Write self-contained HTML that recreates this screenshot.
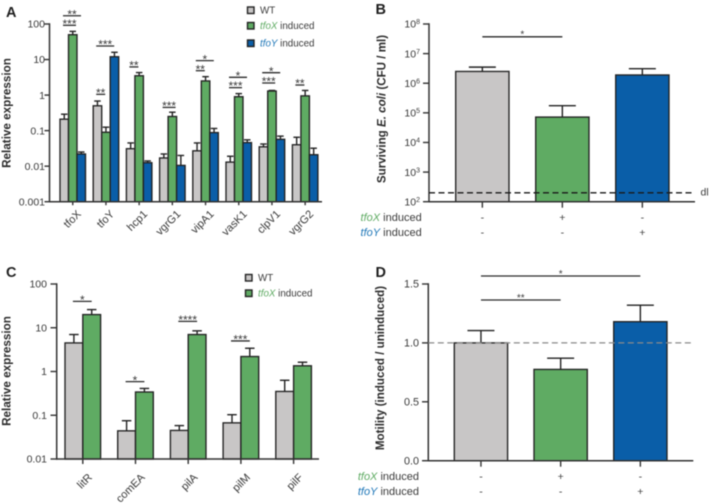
<!DOCTYPE html>
<html>
<head>
<meta charset="utf-8">
<style>
html,body{margin:0;padding:0;background:#fff;width:709px;height:503px;overflow:hidden}
svg{display:block;filter:blur(0.4px)}
text{font-family:"Liberation Sans",sans-serif;fill:#3a3a3a}
</style>
</head>
<body>
<svg id="fig" width="709" height="503" viewBox="0 0 709 503" xmlns="http://www.w3.org/2000/svg"></svg>
<script>
// Panel A
const aGenes = ['tfoX','tfoY','hcp1','vgrG1','vipA1','vasK1','clpV1','vgrG2'];
const aWT = [0.21,0.5,0.031,0.017,0.027,0.013,0.035,0.04];
const aWTErr = [0.29,0.68,0.045,0.022,0.045,0.019,0.042,0.065];
const aTfoX = [50,0.09,3.5,0.25,2.5,0.9,1.3,0.95];
const aTfoXErr = [62,0.125,4.3,0.33,3.3,1.1,1.35,1.35];
const aTfoY = [0.022,12,0.0125,0.0105,0.088,0.046,0.057,0.021];
const aTfoYErr = [0.025,16,0.014,0.02,0.115,0.055,0.07,0.032];
const aTicks = ['100','10','1','0.1','0.01','0.001'];
const aSig = [['**',0,171,1],['***',0,92,0],['***',1,24,1],['**',1,1.05,0],['**',2,6.2,0],['***',3,0.45,0],['*',4,9.3,1],['**',4,4.86,0],['*',5,3.16,1],['***',5,1.62,0],['*',6,4.27,1],['***',6,2.19,0],['**',7,1.92,0]];
// Panel B
const bValues = [2500000,72000,1900000];
const bErr = [3500000,175000,3100000];
const bExp = [8,7,6,5,4,3,2];
const bDetection = 200;
const bSigLevel = 37000000;
const bX = ['-','+','-'];
const bY = ['-','-','+'];
// Panel C
const cGenes = ['litR','comEA','pilA','pilM','pilF'];
const cWT = [4.5,0.044,0.045,0.067,0.35];
const cWTErr = [7,0.075,0.058,0.103,0.63];
const cTfoX = [20,0.34,7,2.2,1.35];
const cTfoXErr = [26,0.41,8.5,3.4,1.63];
const cTicks = ['100','10','1','0.1','0.01'];
const cSig = [['*',0,40],['*',1,0.586],['****',2,14],['***',3,5]];
// Panel D
const dValues = [1.0,0.775,1.18];
const dErr = [1.105,0.87,1.32];
const dTicks = ['1.5','1.0','0.5','0.0'];
const dRef = 1.0;
const dSigLevels = [1.568,1.364];
const dSigLabels = ['*','**'];
const dSigTargets = [2,1];

const GRAY='#c8c6c6', GREEN='#5fab63', BLUE='#0a5ea8', INK='#222222', AXIS='#333333';
const svg=document.getElementById('fig');
const NS='http://www.w3.org/2000/svg';

function mk(tag,attrs,name,parent){
  const el=document.createElementNS(NS,tag);
  for(const k in attrs){el.setAttribute(k,attrs[k]);}
  
  
  (parent||svg).appendChild(el);
  return el;
}
function line(x1,y1,x2,y2,name,w,c,dash){
  const a={x1,y1,x2,y2,stroke:c||AXIS,'stroke-width':w||1.4};
  if(dash){a['stroke-dasharray']=dash;}
  return mk('line',a,name);
}
function txt(x,y,s,name,size,anchor,extra){
  const a=Object.assign({x,y,'font-size':size||10.5,'text-anchor':anchor||'start'},extra||{});
  const t=mk('text',a,name);
  t.textContent=s;
  return t;
}
function logY(top,bottom,maxExp,minExp){
  return v=>top+(maxExp-Math.log10(v))/(maxExp-minExp)*(bottom-top);
}
function linY(top,bottom,max){
  return v=>bottom-(v/max)*(bottom-top);
}
function bar(x,w,v,err,y,base,fill,cap,name){
  line(x+w/2,y(v),x+w/2,y(err),name+'-error',1.4,INK);
  line(x+w/2-cap/2,y(err),x+w/2+cap/2,y(err),name+'-error-cap',1.4,INK);
  mk('rect',{x,y:y(v),width:w,height:base-y(v),fill,stroke:INK,'stroke-width':1.35},name);
}
function sig(x1,x2,yy,label,name,size){
  line(x1,yy,x2,yy,name+'-line',1.3,'#2a2a2a');
  const s=size||12;
  txt((x1+x2)/2,s===12?yy+2.6:yy+0.8,label,name+'-stars',s,'middle');
}
function axes(x,top,base,right,name){
  line(x,top-0.7,x,base+0.7,name+'-y-axis',1.5);
  line(x,base,right,base,name+'-x-axis',1.5);
}
function title(x,y,s,name,size){
  const t=mk('text',{x,y,'font-size':size||11.7,'font-weight':'bold','text-anchor':'middle',transform:`rotate(-90 ${x} ${y})`,style:'fill:#2b2b2b'},name);
  t.textContent=s;
  return t;
}
function italicLabel(x,y,gene,color,rest,anchor,name,size){
  const t=mk('text',{x,y,'font-size':size,'text-anchor':anchor},name);
  const s=mk('tspan',{'font-style':'italic',style:'fill:'+color},name+'-gene',t);
  s.textContent=gene;
  const r=mk('tspan',{},name+'-suffix',t);
  r.textContent=rest;
}
function legendSwatch(x,y,c,name){
  mk('rect',{x,y,width:6.5,height:6.5,fill:c,stroke:INK,'stroke-width':1.4},name);
}
function panelLetter(x,y,s,name){
  return txt(x,y,s,name,14.5,'start',{'font-weight':'bold',style:'fill:#1f1f1f'});
}

/* ---------- Panel A ---------- */
(function(){
  const x0=60, bw=8.5, step=33.2, top=24, base=201.7;
  const y=logY(top,base,2,-3);
  aGenes.forEach((g,i)=>{
    const gx=x0+i*step;
    bar(gx,bw,aWT[i],aWTErr[i],y,base,GRAY,6.5,'a-bar-wt-'+g);
    bar(gx+bw,bw,aTfoX[i],aTfoXErr[i],y,base,GREEN,6.5,'a-bar-tfox-'+g);
    bar(gx+2*bw,bw,aTfoY[i],aTfoYErr[i],y,base,BLUE,6.5,'a-bar-tfoy-'+g);
    const c=gx+1.5*bw;
    line(c,base,c,base+3.5,'a-x-tick-'+g);
    const lx=c+9, ly=base+13;
    const t=mk('text',{x:lx,y:ly,'font-size':11,'text-anchor':'end',transform:`rotate(-45 ${lx} ${ly})`},'a-x-label-'+g);
    t.textContent=g;
  });
  axes(49.5,top,base,322,'a');
  aTicks.forEach((s,i)=>{
    const v=Math.pow(10,2-i), yy=y(v);
    line(44.5,yy,49.5,yy,'a-y-tick-'+s);
    txt(45,yy+3.7,s,'a-y-label-'+s,10.5,'end');
  });
  aSig.forEach((d,i)=>{
    const gx=x0+d[1]*step;
    const x1=gx+3;
    const x2=d[3]?gx+21:(d[0]==='***'?gx+16:gx+12);
    sig(x1,x2,y(d[2]),d[0],'a-significance-'+i);
  });
  title(10.5,113,'Relative expression','a-y-axis-title');
  legendSwatch(247.5,7,GRAY,'a-legend-swatch-wt');
  txt(260,13.5,'WT','a-legend-label-wt',9.8);
  legendSwatch(247.5,22.5,GREEN,'a-legend-swatch-tfox');
  italicLabel(260,29,'tfoX','#5fab63',' induced','start','a-legend-label-tfox',9.8);
  legendSwatch(247.5,40,BLUE,'a-legend-swatch-tfoy');
  italicLabel(260,46.5,'tfoY','#1f77b8',' induced','start','a-legend-label-tfoy',9.8);
  panelLetter(6,17,'A','panel-a-letter');
})();

/* ---------- Panel B ---------- */
(function(){
  const top=24, base=201.7, step=80, first=455.7, bw=53.3;
  const y=logY(top,base,8,2);
  const fills=[GRAY,GREEN,BLUE];
  bValues.forEach((v,i)=>{
    const x=first+i*step;
    bar(x,bw,v,bErr[i],y,base,fills[i],27,'b-bar-'+i);
    line(x+bw/2,base,x+bw/2,base+6,'b-x-tick-'+i);
    txt(x+bw/2,221,bX[i],'b-tfox-sign-'+i,10.5,'middle');
    txt(x+bw/2,236,bY[i],'b-tfoy-sign-'+i,10.5,'middle');
  });
  axes(429,top,base,695,'b');
  bExp.forEach(e=>{
    const yy=y(Math.pow(10,e));
    line(423,yy,429,yy,'b-y-tick-'+e);
    const t=mk('text',{x:420,y:yy+3.7,'font-size':10.5,'text-anchor':'end'},'b-y-label-'+e);
    const m=mk('tspan',{},'b-y-label-base-'+e,t);
    m.textContent='10';
    const p=mk('tspan',{dy:-3.5,'font-size':7},'b-y-label-exp-'+e,t);
    p.textContent=String(e);
  });
  line(429,y(bDetection),695,y(bDetection),'b-detection-limit-line',1.4,'#1a1a1a','6 3.5');
  txt(700.5,195.5,'dl','b-detection-limit-label',10.5);
  sig(first+bw/2,first+step+bw/2,y(bSigLevel),'*','b-significance',10);
  const tt=mk('text',{x:385.5,y:109,'font-size':11.6,'font-weight':'bold','text-anchor':'middle',transform:'rotate(-90 385.5 109)',style:'fill:#2b2b2b'},'b-y-axis-title');
  const a1=mk('tspan',{},'b-y-title-start',tt);
  a1.textContent='Surviving ';
  const a2=mk('tspan',{'font-style':'italic'},'b-y-title-species',tt);
  a2.textContent='E. coli';
  const a3=mk('tspan',{},'b-y-title-end',tt);
  a3.textContent=' (CFU / ml)';
  italicLabel(421.7,221,'tfoX','#5fab63',' induced','end','b-row-label-tfox',11);
  italicLabel(421.7,236,'tfoY','#1f77b8',' induced','end','b-row-label-tfoy',11);
  panelLetter(375.5,14,'B','panel-b-letter');
})();

/* ---------- Panel C ---------- */
(function(){
  const x0=65, bw=17.8, step=52.7, top=284, base=459;
  const y=logY(top,base,2,-2);
  cGenes.forEach((g,i)=>{
    const gx=x0+i*step;
    bar(gx,bw,cWT[i],cWTErr[i],y,base,GRAY,9.5,'c-bar-wt-'+g);
    bar(gx+bw,bw,cTfoX[i],cTfoXErr[i],y,base,GREEN,9.5,'c-bar-tfox-'+g);
    const c=gx+bw;
    line(c,base,c,base+5,'c-x-tick-'+g);
    const lx=c+10, ly=base+19;
    const t=mk('text',{x:lx,y:ly,'font-size':11,'text-anchor':'end',transform:`rotate(-45 ${lx} ${ly})`},'c-x-label-'+g);
    t.textContent=g;
  });
  axes(56.7,top,base,319,'c');
  cTicks.forEach((s,i)=>{
    const yy=y(Math.pow(10,2-i));
    line(50.5,yy,56.7,yy,'c-y-tick-'+s);
    txt(47,yy+3.7,s,'c-y-label-'+s,10.5,'end');
  });
  cSig.forEach((d,i)=>{
    const gx=x0+d[1]*step;
    sig(gx+bw/2-1,gx+1.5*bw,y(d[2]),d[0],'c-significance-'+i);
  });
  title(10.5,371,'Relative expression','c-y-axis-title');
  legendSwatch(245.5,274.5,GRAY,'c-legend-swatch-wt');
  txt(258,281,'WT','c-legend-label-wt',9.8);
  legendSwatch(245.5,290,GREEN,'c-legend-swatch-tfox');
  italicLabel(258,296.5,'tfoX','#5fab63',' induced','start','c-legend-label-tfox',9.8);
  panelLetter(6,277,'C','panel-c-letter');
})();

/* ---------- Panel D ---------- */
(function(){
  const top=284, base=460.7, step=79.7, first=454.3, bw=53.3;
  const y=linY(top,base,1.5);
  const fills=[GRAY,GREEN,BLUE];
  dValues.forEach((v,i)=>{
    const x=first+i*step;
    bar(x,bw,v,dErr[i],y,base,fills[i],27,'d-bar-'+i);
    line(x+bw/2,base,x+bw/2,base+6,'d-x-tick-'+i);
    txt(x+bw/2,480,bX[i],'d-tfox-sign-'+i,10.5,'middle');
    txt(x+bw/2,495,bY[i],'d-tfoy-sign-'+i,10.5,'middle');
  });
  axes(428.3,top,base,693.3,'d');
  dTicks.forEach(s=>{
    const yy=y(parseFloat(s));
    line(422,yy,428.3,yy,'d-y-tick-'+s);
    txt(419,yy+3.7,s,'d-y-label-'+s,10.8,'end');
  });
  line(428.3,y(dRef),694,y(dRef),'d-reference-line',1.2,'#8a8a8a','6 3.5');
  dSigLevels.forEach((l,i)=>{
    const c0=first+bw/2;
    sig(c0,c0+dSigTargets[i]*step,y(l),dSigLabels[i],'d-significance-'+i,10);
  });
  const tt=mk('text',{x:384,y:368,'font-size':11.6,'font-weight':'bold','text-anchor':'middle',transform:'rotate(-90 384 368)',style:'fill:#2b2b2b'},'d-y-axis-title');
  tt.textContent='Motility (induced / uninduced)';
  italicLabel(419,480,'tfoX','#5fab63',' induced','end','d-row-label-tfox',11);
  italicLabel(419,495,'tfoY','#1f77b8',' induced','end','d-row-label-tfoy',11);
  panelLetter(375.5,277,'D','panel-d-letter');
})();
</script>
</body>
</html>
